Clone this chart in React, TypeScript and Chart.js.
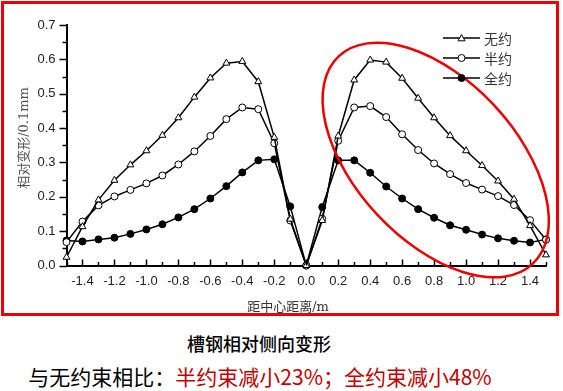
import React, { useEffect, useRef } from "react";
import { Chart, registerables } from "chart.js";

Chart.register(...registerables);

const xValues = [-1.5, -1.4, -1.3, -1.2, -1.1, -1.0, -0.9, -0.8, -0.7, -0.6, -0.5, -0.4, -0.3, -0.2, -0.1, 0, 0.1, 0.2, 0.3, 0.4, 0.5, 0.6, 0.7, 0.8, 0.9, 1.0, 1.1, 1.2, 1.3, 1.4, 1.5];
const noConstraint = [0.024, 0.113, 0.191, 0.248, 0.293, 0.334, 0.379, 0.430, 0.490, 0.546, 0.589, 0.594, 0.535, 0.373, 0.135, 0, 0.131, 0.377, 0.540, 0.598, 0.592, 0.545, 0.487, 0.430, 0.378, 0.334, 0.291, 0.246, 0.193, 0.116, 0.031];
const halfConstraint = [0.068, 0.128, 0.175, 0.201, 0.220, 0.239, 0.262, 0.294, 0.332, 0.377, 0.426, 0.460, 0.455, 0.356, 0.131, 0, 0.136, 0.363, 0.460, 0.464, 0.432, 0.382, 0.336, 0.297, 0.266, 0.240, 0.221, 0.202, 0.176, 0.132, 0.075];
const fullConstraint = [0.073, 0.070, 0.076, 0.081, 0.092, 0.105, 0.120, 0.140, 0.164, 0.195, 0.231, 0.271, 0.306, 0.309, 0.172, 0, 0.170, 0.306, 0.306, 0.270, 0.230, 0.195, 0.164, 0.139, 0.117, 0.104, 0.090, 0.079, 0.072, 0.067, 0.076];
const seriesNames = ["无约", "半约", "全约"];
const xTickValues = [-1.4, -1.2, -1.0, -0.8, -0.6, -0.4, -0.2, 0, 0.2, 0.4, 0.6, 0.8, 1.0, 1.2, 1.4];
const xMinorTickValues = [-1.5, -1.3, -1.1, -0.9, -0.7, -0.5, -0.3, -0.1, 0.1, 0.3, 0.5, 0.7, 0.9, 1.1, 1.3, 1.5];
const yTickValues = [0, 0.1, 0.2, 0.3, 0.4, 0.5, 0.6, 0.7];
const yMinorTickValues = [0.05, 0.15, 0.25, 0.35, 0.45, 0.55, 0.65];
const ellipseCenter = { x: 0.81, y: 0.307 };

const toPoints = (ys: number[]) => xValues.map((x, i) => ({ x, y: ys[i] }));

const ticksPlugin = {
  id: "customTicks",
  afterDraw(chart: any) {
    const ctx = chart.ctx;
    const xs = chart.scales.x;
    const ys = chart.scales.y;
    const area = chart.chartArea;
    ctx.save();
    ctx.strokeStyle = "#000";
    ctx.lineWidth = 1.5;
    ctx.beginPath();
    xTickValues.forEach((v) => {
      const px = Math.round(xs.getPixelForValue(v)) + 0.5;
      ctx.moveTo(px, area.bottom);
      ctx.lineTo(px, area.bottom - 6);
    });
    xMinorTickValues.forEach((v) => {
      const px = Math.round(xs.getPixelForValue(v)) + 0.5;
      ctx.moveTo(px, area.bottom);
      ctx.lineTo(px, area.bottom - 3.5);
    });
    yTickValues.forEach((v) => {
      const py = Math.round(ys.getPixelForValue(v)) + 0.5;
      ctx.moveTo(area.left, py);
      ctx.lineTo(area.left - 7, py);
    });
    yMinorTickValues.forEach((v) => {
      const py = Math.round(ys.getPixelForValue(v)) + 0.5;
      ctx.moveTo(area.left, py);
      ctx.lineTo(area.left - 4, py);
    });
    ctx.stroke();

    // red ellipse annotation
    const cx = xs.getPixelForValue(ellipseCenter.x);
    const cy = ys.getPixelForValue(ellipseCenter.y);
    ctx.beginPath();
    ctx.strokeStyle = "#ee0000";
    ctx.lineWidth = 2.5;
    ctx.ellipse(cx, cy, 142, 80, (47 * Math.PI) / 180, 0, Math.PI * 2);
    ctx.stroke();

    // legend
    const styles = chart.data.datasets;
    styles.forEach((ds: any, i: number) => {
      const y = 38 + i * 20;
      const x0 = 443;
      const x1 = 480;
      ctx.beginPath();
      ctx.strokeStyle = "#000";
      ctx.lineWidth = 1.5;
      ctx.moveTo(x0, y);
      ctx.lineTo(x1, y);
      ctx.stroke();
      const mx = (x0 + x1) / 2;
      ctx.beginPath();
      ctx.fillStyle = ds.pointBackgroundColor;
      ctx.strokeStyle = "#000";
      ctx.lineWidth = 1;
      if (ds.pointStyle === "triangle") {
        const r = 3.5;
        ctx.moveTo(mx, y - r);
        ctx.lineTo(mx + r, y + r * 0.8);
        ctx.lineTo(mx - r, y + r * 0.8);
        ctx.closePath();
      } else {
        ctx.arc(mx, y, 3.5, 0, Math.PI * 2);
      }
      ctx.fill();
      ctx.stroke();
      ctx.fillStyle = "#333";
      ctx.font = "14px 'Noto Sans CJK SC'";
      ctx.textBaseline = "middle";
      ctx.textAlign = "left";
      ctx.fillText(ds.label, 484, y + 1);
    });
    ctx.restore();
  },
};

export default function App() {
  const ref = useRef<HTMLCanvasElement>(null);
  useEffect(() => {
    if (!ref.current) return;
    const common = {
      borderColor: "#000",
      borderWidth: 1.5,
      pointBorderColor: "#000",
      pointBorderWidth: 1,
      pointRadius: 3.5,
      clip: false as any,
    };
    const chart = new Chart(ref.current, {
      type: "line",
      data: {
        datasets: [
          { ...common, label: seriesNames[0], data: toPoints(noConstraint), pointStyle: "triangle", pointBackgroundColor: "#fff", pointRadius: 4 },
          { ...common, label: seriesNames[1], data: toPoints(halfConstraint), pointStyle: "circle", pointBackgroundColor: "#fff" },
          { ...common, label: seriesNames[2], data: toPoints(fullConstraint), pointStyle: "circle", pointBackgroundColor: "#000" },
        ] as any,
      },
      options: {
        animation: false,
        responsive: false,
        maintainAspectRatio: false,
        layout: { padding: { top: 25, right: 17, left: 0, bottom: 0 } },
        plugins: { legend: { display: false }, tooltip: { enabled: false } },
        scales: {
          x: {
            type: "linear",
            min: -1.5,
            max: 1.5,
            grid: { display: false, drawTicks: false },
            border: { display: true, color: "#000", width: 2 },
            afterBuildTicks: (scale: any) => {
              scale.ticks = xTickValues.map((v) => ({ value: v }));
            },
            afterFit: (scale: any) => {
              scale.height = 54.5;
            },
            ticks: {
              padding: 8,
              color: "#222",
              font: { family: "'Liberation Sans', Arial", size: 13 },
              maxRotation: 0,
              autoSkip: false,
              callback: (v: any) => Number(v).toFixed(1),
            },
          },
          y: {
            min: 0,
            max: 0.7,
            grid: { display: false, drawTicks: false },
            border: { display: true, color: "#000", width: 2 },
            afterBuildTicks: (scale: any) => {
              scale.ticks = yTickValues.map((v) => ({ value: v }));
            },
            afterFit: (scale: any) => {
              scale.width = 66.5;
            },
            ticks: {
              padding: 11,
              color: "#222",
              font: { family: "'Liberation Sans', Arial", size: 13 },
              autoSkip: false,
              callback: (v: any) => Number(v).toFixed(1),
            },
          },
        },
      },
      plugins: [ticksPlugin],
    });
    return () => chart.destroy();
  }, []);

  return (
    <div style={{ position: "absolute", left: 0, top: 0, width: 563, height: 391, background: "#fff", overflow: "hidden" }}>
      <canvas ref={ref} width={563} height={320} style={{ position: "absolute", left: 0, top: 0, width: 563, height: 320 }} />
      <div style={{ position: "absolute", left: 1, top: 1, width: 558, height: 315, border: "3px solid #ee0000", boxSizing: "border-box", pointerEvents: "none" }} />
      <div style={{ position: "absolute", left: 22, top: 138, transform: "translate(-50%, -50%) rotate(-90deg)", whiteSpace: "nowrap", fontFamily: "'DejaVu Serif', 'Noto Sans CJK SC', serif", fontSize: 13, color: "#555" }}>
        相对变形/0.1mm
      </div>
      <div style={{ position: "absolute", left: 288, top: 305, transform: "translate(-50%, -50%)", whiteSpace: "nowrap", fontFamily: "'DejaVu Serif', 'Noto Sans CJK SC', serif", fontSize: 13, color: "#333" }}>
        距中心距离/m
      </div>
      <div style={{ position: "absolute", left: 259, top: 343, transform: "translate(-50%, -50%)", whiteSpace: "nowrap", fontFamily: "'Noto Sans CJK SC', sans-serif", fontSize: 18, fontWeight: 500, color: "#000" }}>
        槽钢相对侧向变形
      </div>
      <div style={{ position: "absolute", left: 260, top: 376, transform: "translate(-50%, -50%)", whiteSpace: "nowrap", fontFamily: "'Noto Sans CJK SC', sans-serif", fontSize: 21, color: "#000" }}>
        与无约束相比：<span style={{ color: "#c00000" }}>半约束减小23%；全约束减小48%</span>
      </div>
    </div>
  );
}
